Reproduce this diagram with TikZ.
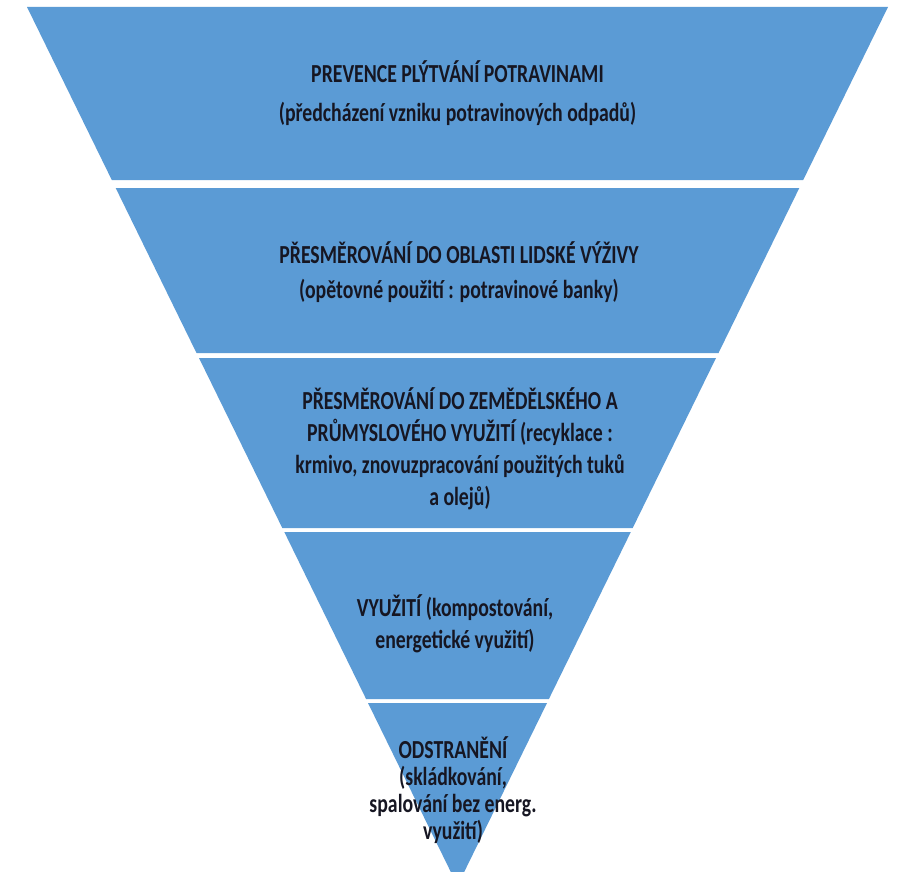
\documentclass[tikz,border=0pt]{standalone}
\usepackage{fontspec}
\newfontfamily\labfont{Carlito}[FakeStretch=0.76]
\definecolor{bandblue}{RGB}{91,155,213}
\definecolor{labtext}{RGB}{22,22,34}
\begin{document}
\begin{tikzpicture}[x=1pt,y=-1pt,
  band/.style={fill=bandblue},
  lab/.style={text=labtext,align=center,inner sep=0pt,font=\labfont\bfseries\fontsize{26pt}{#1}\selectfont},
  lab/.default=32pt]
\useasboundingbox (0,0) rectangle (897,872);
\clip (0,0) rectangle (897,872);
\fill[white] (0,0) rectangle (897,872);
% bands
\fill[band] (27,7) -- (888,7) -- (803.2,180) -- (111.8,180) -- cycle;
\fill[band] (115.7,188) -- (799.3,188) -- (718.5,353) -- (196.5,353) -- cycle;
\fill[band] (199.0,358) -- (716.0,358) -- (632.7,528) -- (282.3,528) -- cycle;
\fill[band] (284.3,532) -- (630.8,532) -- (548.9,699) -- (366.1,699) -- cycle;
\fill[band] (368.0,703) -- (547.0,703) -- (457.5,885.6) -- cycle;
% labels
\node[lab=39pt] (t1) at (457.5,93.5) {PREVENCE PLÝTVÁNÍ POTRAVINAMI\\(předcházení vzniku potravinových odpadů)};
\node[lab=35pt] (t2) at (459,272.5) {PŘESMĚROVÁNÍ DO OBLASTI LIDSKÉ VÝŽIVY\\(opětovné použití : potravinové banky)};
\node[lab=32pt] (t3) at (460,448.5) {PŘESMĚROVÁNÍ DO ZEMĚDĚLSKÉHO A\\PRŮMYSLOVÉHO VYUŽITÍ (recyklace :\\krmivo, znovuzpracování použitých tuků\\a olejů)};
\node[lab=32pt] (t4) at (455,624) {VYUŽITÍ (kompostování,\\energetické využití)};
\node[lab=27pt] (t5) at (453,790) {ODSTRANĚNÍ\\(skládkování,\\spalování bez energ.\\využití)};
\end{tikzpicture}
\end{document}
